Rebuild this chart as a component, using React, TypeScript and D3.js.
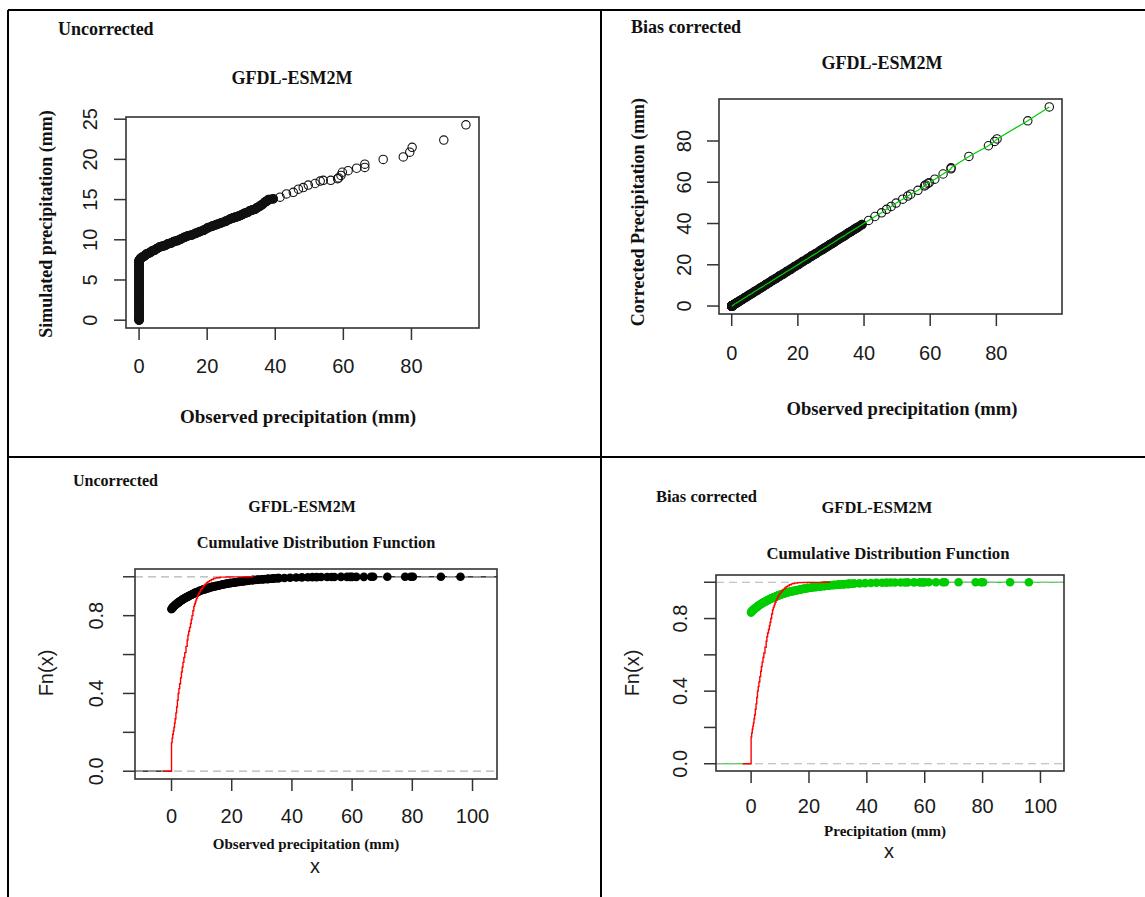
import React, { useEffect, useRef } from "react";
import * as d3 from "d3";

// sorted quantile pairs (mm)
const qqObserved = [
  0, 0, 0, 0, 0, 0, 0, 0, 0, 0, 0, 0, 0, 0, 0, 0, 0, 0, 0, 0, 0, 0, 0, 0, 0, 0, 0, 0, 0, 0,
  0.3, 0.5, 0.8, 1.2, 1.6, 2.1, 2.6, 3.2, 3.8, 4.5, 5.2, 6.0, 6.8, 7.6, 8.5, 9.4, 10.3, 11.3, 12.3, 13.3,
  14.4, 15.5, 16.6, 17.8, 19.0, 20.2, 21.5, 22.8, 24.1, 25.4, 26.8, 27.5, 28.2, 28.9, 29.6, 30.3, 31.0,
  31.8, 32.5, 33.2, 34.0, 34.7, 35.5, 36.2, 37.0, 37.5, 38.0,
  39.4, 41.4, 43.3, 45.3, 46.8, 48.2, 49.7, 51.7, 53.2, 54.1, 56.3, 58.3, 58.6, 59.3, 59.7, 61.4, 63.9, 66.3, 66.3,
  71.7, 77.6, 79.5, 80.2, 89.5, 96.0,
];
const qqSimulated = [
  0, 0.1, 0.3, 0.5, 0.8, 1.1, 1.3, 1.6, 1.9, 2.2, 2.4, 2.7, 3.0, 3.3, 3.5, 3.8, 4.1, 4.4, 4.6, 4.9, 5.2, 5.4, 5.7, 6.0, 6.2, 6.5, 6.8, 7.0, 7.2, 7.4,
  7.6, 7.7, 7.8, 7.9, 8.0, 8.2, 8.3, 8.4, 8.6, 8.7, 8.9, 9.1, 9.2, 9.3, 9.5, 9.6, 9.8, 9.9, 10.1, 10.3,
  10.5, 10.6, 10.8, 11.0, 11.2, 11.5, 11.7, 11.9, 12.1, 12.3, 12.6, 12.7, 12.8, 12.9, 13.0, 13.15, 13.3,
  13.4, 13.6, 13.7, 13.8, 14.0, 14.2, 14.4, 14.7, 14.8, 15.0,
  15.1, 15.3, 15.7, 15.9, 16.3, 16.5, 16.8, 17.0, 17.3, 17.4, 17.4, 17.6, 17.7, 18.0, 18.4, 18.6, 18.9, 19.0, 19.4,
  20.0, 20.3, 20.9, 21.5, 22.4, 24.3,
];
const qqCorrected = [
  0, 0, 0, 0, 0, 0, 0, 0, 0, 0, 0, 0, 0, 0, 0, 0, 0, 0, 0, 0, 0, 0, 0, 0, 0, 0, 0, 0, 0, 0,
  0.2, 0.5, 0.9, 1.2, 1.7, 2.1, 2.7, 3.2, 3.9, 4.5, 5.3, 6.0, 6.9, 7.6, 8.6, 9.4, 10.4, 11.3, 12.4, 13.3,
  14.5, 15.5, 16.7, 17.8, 19.1, 20.2, 21.6, 22.8, 24.2, 25.4, 26.9, 27.5, 28.2, 28.9, 29.7, 30.3, 31.0,
  31.9, 32.6, 33.3, 34.0, 34.8, 35.6, 36.3, 37.1, 37.6, 38.1,
  39.5, 41.5, 43.4, 45.2, 46.9, 48.3, 49.9, 51.8, 53.3, 54.2, 56.1, 58.2, 58.7, 59.4, 59.8, 61.5, 64.0, 66.5, 67.0,
  72.5, 77.7, 79.8, 81.0, 89.8, 96.5,
];

// empirical CDF of observed / corrected precipitation (knots and Fn)
const cdfObsX = [
  0, 0.3, 0.6, 1.0, 1.4, 1.9, 2.4, 2.9, 3.5, 4.1, 4.8, 5.5, 6.2, 7.0, 7.8, 8.6, 9.5, 10.4, 11.4, 12.4,
  13.5, 14.6, 15.8, 17.0, 18.3, 19.6, 21.0, 22.4, 23.9, 25.4, 27.0, 28.6, 30.3, 32.0, 33.8, 35.6, 37.5, 39.4,
  41.4, 43.3, 45.3, 46.8, 48.2, 49.7, 51.7, 53.2, 54.1, 56.3, 58.3, 59.3, 60.0, 61.4, 63.9, 66.3, 67.0,
  71.7, 77.6, 79.5, 80.2, 89.5, 96.0,
];
const cdfObsY = [
  0.834, 0.84, 0.845, 0.851, 0.857, 0.863, 0.869, 0.875, 0.881, 0.887, 0.893, 0.899, 0.905, 0.911, 0.917,
  0.922, 0.928, 0.933, 0.938, 0.943, 0.948, 0.952, 0.956, 0.96, 0.964, 0.968, 0.971, 0.974, 0.977, 0.98,
  0.983, 0.985, 0.987, 0.989, 0.991, 0.993, 0.994, 0.995, 0.996, 0.997, 0.9975, 0.998, 0.9983, 0.9986,
  0.9988, 0.999, 0.9991, 0.9993, 0.9994, 0.9995, 0.9996, 0.9997, 0.9997, 0.9998, 0.9998, 0.9999, 0.9999,
  0.9999, 0.9999, 0.99995, 1.0,
];

// CDF of simulated precipitation (red step line)
const cdfSimX = [
  0, 0.2, 0.4, 0.6, 0.8, 1.0, 1.2, 1.45, 1.7, 1.95, 2.2, 2.45, 2.7, 3.0, 3.3, 3.55, 3.8, 4.1, 4.4, 4.8,
  5.2, 5.45, 5.7, 6.0, 6.3, 6.55, 6.8, 7.1, 7.4, 7.65, 7.9, 8.1, 8.3, 8.6, 8.9, 9.15, 9.4, 9.7, 10.0,
  10.35, 10.7, 11.1, 11.6, 12.1, 12.6, 13.2, 13.9, 14.4, 15.0, 16.1, 18.0, 19.4, 24.3,
];
const cdfSimY = [
  0.147, 0.17, 0.19, 0.207, 0.225, 0.248, 0.27, 0.3, 0.33, 0.365, 0.4, 0.425, 0.45, 0.48, 0.51, 0.535,
  0.56, 0.585, 0.61, 0.642, 0.675, 0.7, 0.72, 0.74, 0.76, 0.78, 0.8, 0.825, 0.848, 0.86, 0.87, 0.88,
  0.89, 0.9, 0.91, 0.918, 0.925, 0.933, 0.94, 0.948, 0.955, 0.962, 0.969, 0.975, 0.98, 0.986, 0.991,
  0.993, 0.995, 0.998, 0.999, 0.9995, 1.0,
];

const qqXTicks = [0, 20, 40, 60, 80];
const simYTicks = [0, 5, 10, 15, 20, 25];
const corrYTicks = [0, 20, 40, 60, 80];
const cdfXTicks = [0, 20, 40, 60, 80, 100];
const cdfYTicks = [0, 0.2, 0.4, 0.6, 0.8, 1];
const cdfYLabels = ["0.0", "", "0.4", "", "0.8", ""];

const SERIF = "'Liberation Serif', 'Times New Roman', serif";
const SANS = "'Liberation Sans', Arial, sans-serif";
const GREEN = "#00cd00";

const pad = (lo: number, hi: number) => {
  const d = (hi - lo) * 0.04;
  return [lo - d, hi + d];
};

function addText(g: any, t: any) {
  const el = g
    .append("text")
    .attr("x", t.x)
    .attr("y", t.y)
    .attr("font-family", t.font || SERIF)
    .attr("font-weight", t.bold === false ? "normal" : "bold")
    .attr("font-size", t.size)
    .attr("text-anchor", t.anchor || "middle")
    .attr("fill", t.fill || "#111")
    .text(t.s);
  if (t.rot) el.attr("transform", `rotate(-90, ${t.x}, ${t.y})`);
}

function drawAxes(g: any, cfg: any, xs: any, ys: any) {
  const { box } = cfg;
  const ax = g.append("g").attr("stroke", "#333").attr("stroke-width", 1.5);
  ax.selectAll("line.xt")
    .data(cfg.xTicks)
    .join("line")
    .attr("x1", (d: number) => xs(d))
    .attr("x2", (d: number) => xs(d))
    .attr("y1", box.b)
    .attr("y2", box.b + 12);
  ax.selectAll("line.yt")
    .data(cfg.yTicks)
    .join("line")
    .attr("class", "yt")
    .attr("x1", box.l - 12)
    .attr("x2", box.l)
    .attr("y1", (d: number) => ys(d))
    .attr("y2", (d: number) => ys(d));

  const lab = g
    .append("g")
    .attr("font-family", SANS)
    .attr("font-size", 20)
    .attr("fill", "#1a1a1a")
    .attr("text-anchor", "middle");
  lab
    .selectAll("text.xl")
    .data(cfg.xTicks)
    .join("text")
    .attr("x", (d: number) => xs(d))
    .attr("y", cfg.xLabelY)
    .text((d: number) => d);
  lab
    .selectAll("text.yl")
    .data(cfg.yTicks)
    .join("text")
    .attr("class", "yl")
    .attr("x", cfg.yLabelX)
    .attr("y", (d: number) => ys(d))
    .attr("transform", (d: number) => `rotate(-90, ${cfg.yLabelX}, ${ys(d)})`)
    .text((d: number, i: number) => (cfg.yLabels ? cfg.yLabels[i] : d));

  g.append("rect")
    .attr("x", box.l)
    .attr("y", box.t)
    .attr("width", box.r - box.l)
    .attr("height", box.b - box.t)
    .attr("fill", "none")
    .attr("stroke", "#333")
    .attr("stroke-width", 1.6);

  cfg.texts.forEach((t: any) => addText(g, t));
}

// joins long runs of markers closer than maxGap px, the way overplotted symbols merge
function bandPairs(pts: number[][], maxGap: number, minRun = 6) {
  const out: number[][][] = [];
  let run: number[][][] = [];
  const flush = () => {
    if (run.length >= minRun - 1) out.push(...run);
    run = [];
  };
  d3.pairs(pts).forEach(([a, b]) => {
    if (Math.hypot(b[0] - a[0], b[1] - a[1]) < maxGap) run.push([a, b]);
    else flush();
  });
  flush();
  return out;
}

function drawQQ(svg: any, cfg: any) {
  const { box } = cfg;
  const g = svg.append("g");
  const xs = d3
    .scaleLinear()
    .domain(pad(d3.min(cfg.xData)!, d3.max(cfg.xData)!))
    .range([box.l, box.r]);
  const ys = d3
    .scaleLinear()
    .domain(pad(d3.min(cfg.yData)!, d3.max(cfg.yData)!))
    .range([box.b, box.t]);
  const pts = cfg.xData.map((v: number, i: number) => [xs(v), ys(cfg.yData[i])]);

  g.append("g")
    .selectAll("line")
    .data(bandPairs(pts, 5.6))
    .join("line")
    .attr("x1", (d: any) => d[0][0])
    .attr("y1", (d: any) => d[0][1])
    .attr("x2", (d: any) => d[1][0])
    .attr("y2", (d: any) => d[1][1])
    .attr("stroke", "#111")
    .attr("stroke-width", 9.4)
    .attr("stroke-linecap", "round");

  g.append("g")
    .selectAll("circle")
    .data(pts)
    .join("circle")
    .attr("cx", (d: any) => d[0])
    .attr("cy", (d: any) => d[1])
    .attr("r", 4.2)
    .attr("fill", "none")
    .attr("stroke", "#111")
    .attr("stroke-width", 1.1);

  if (cfg.line) {
    g.append("path")
      .attr("d", d3.line()(pts))
      .attr("fill", "none")
      .attr("stroke", cfg.line)
      .attr("stroke-width", 1.2);
  }

  drawAxes(g, cfg, xs, ys);
}

function drawCdf(svg: any, cfg: any) {
  const { box } = cfg;
  const g = svg.append("g");
  const xMin = d3.min(cdfObsX)!;
  const xMax = d3.max(cdfObsX)!;
  const dr = Math.max(0.08 * (xMax - xMin), d3.median(d3.pairs(cdfObsX, (a, b) => b - a))!);
  const xs = d3
    .scaleLinear()
    .domain(pad(xMin - dr, xMax + dr))
    .range([box.l, box.r]);
  const ys = d3.scaleLinear().domain(pad(0, 1)).range([box.b, box.t]);
  const pts = cdfObsX.map((v, i) => [xs(v), ys(cdfObsY[i])]);

  // horizontal pieces of the step function
  const segs: number[][] = [[box.l, xs(cdfObsX[0]), ys(0)]];
  cdfObsX.forEach((v, i) => {
    const next = i < cdfObsX.length - 1 ? xs(cdfObsX[i + 1]) : box.r;
    segs.push([xs(v), next, ys(cdfObsY[i])]);
  });
  g.append("g")
    .selectAll("line")
    .data(segs)
    .join("line")
    .attr("x1", (d: number[]) => d[0])
    .attr("x2", (d: number[]) => d[1])
    .attr("y1", (d: number[]) => d[2])
    .attr("y2", (d: number[]) => d[2])
    .attr("stroke", cfg.color)
    .attr("stroke-width", 1.2);

  g.append("g")
    .selectAll("line")
    .data([0, 1])
    .join("line")
    .attr("x1", box.l)
    .attr("x2", box.r)
    .attr("y1", (d: number) => ys(d))
    .attr("y2", (d: number) => ys(d))
    .attr("stroke", "#b3b3b3")
    .attr("stroke-width", 1.2)
    .attr("stroke-dasharray", "8,5");

  g.append("g")
    .selectAll("line")
    .data(bandPairs(pts, 5.5))
    .join("line")
    .attr("x1", (d: any) => d[0][0])
    .attr("y1", (d: any) => d[0][1])
    .attr("x2", (d: any) => d[1][0])
    .attr("y2", (d: any) => d[1][1])
    .attr("stroke", cfg.color)
    .attr("stroke-width", 8.6)
    .attr("stroke-linecap", "round");

  g.append("g")
    .selectAll("circle")
    .data(pts)
    .join("circle")
    .attr("cx", (d: any) => d[0])
    .attr("cy", (d: any) => d[1])
    .attr("r", 4.3)
    .attr("fill", cfg.color);

  const simExt = 0.12 * (d3.max(cdfSimX)! - d3.min(cdfSimX)!);
  const simPts: [number, number][] = [
    [xs(cdfSimX[0] - simExt), ys(0)],
    ...cdfSimX.map((v, i) => [xs(v), ys(cdfSimY[i])] as [number, number]),
    [xs(cdfSimX[cdfSimX.length - 1] + simExt), ys(cdfSimY[cdfSimY.length - 1])],
  ];
  g.append("path")
    .attr("d", d3.line().curve(d3.curveStepAfter)(simPts))
    .attr("fill", "none")
    .attr("stroke", "#ff0000")
    .attr("stroke-width", 1.4);

  drawAxes(g, cfg, xs, ys);
}

const App: React.FC = () => {
  const svgRef = useRef<SVGSVGElement>(null);

  useEffect(() => {
    const svg = d3.select(svgRef.current);
    svg.selectAll("*").remove();

    // table rules
    const rules = [
      [8, 10, 1145, 10],
      [8, 457, 1145, 457],
      [8, 10, 8, 897],
      [601, 10, 601, 897],
    ];
    svg
      .append("g")
      .selectAll("line")
      .data(rules)
      .join("line")
      .attr("x1", (d) => d[0])
      .attr("y1", (d) => d[1])
      .attr("x2", (d) => d[2])
      .attr("y2", (d) => d[3])
      .attr("stroke", "#000")
      .attr("stroke-width", 2);

    drawQQ(svg, {
      box: { l: 126, r: 479, t: 117, b: 328 },
      xData: qqObserved,
      yData: qqSimulated,
      xTicks: qqXTicks,
      yTicks: simYTicks,
      xLabelY: 373,
      yLabelX: 97,
      texts: [
        { s: "Uncorrected", x: 58, y: 35, size: 18, anchor: "start" },
        { s: "GFDL-ESM2M", x: 292, y: 84, size: 18 },
        { s: "Observed precipitation (mm)", x: 298, y: 423, size: 19 },
        { s: "Simulated precipitation (mm)", x: 52, y: 224, size: 18, rot: true },
      ],
    });

    drawQQ(svg, {
      box: { l: 719, r: 1062, t: 99, b: 314 },
      xData: qqObserved,
      yData: qqCorrected,
      line: GREEN,
      xTicks: qqXTicks,
      yTicks: corrYTicks,
      xLabelY: 360,
      yLabelX: 691,
      texts: [
        { s: "Bias corrected", x: 631, y: 33, size: 18, anchor: "start" },
        { s: "GFDL-ESM2M", x: 882, y: 69, size: 18 },
        { s: "Observed precipitation (mm)", x: 902, y: 415, size: 18.6 },
        { s: "Corrected Precipitation (mm)", x: 644, y: 212, size: 18, rot: true },
      ],
    });

    drawCdf(svg, {
      box: { l: 135, r: 497, t: 569, b: 779 },
      color: "#000",
      xTicks: cdfXTicks,
      yTicks: cdfYTicks,
      yLabels: cdfYLabels,
      xLabelY: 823,
      yLabelX: 103,
      texts: [
        { s: "Uncorrected", x: 73, y: 486, size: 16, anchor: "start" },
        { s: "GFDL-ESM2M", x: 302, y: 512, size: 16 },
        { s: "Cumulative Distribution Function", x: 316, y: 548, size: 16.4 },
        { s: "Observed precipitation (mm)", x: 306, y: 849, size: 15 },
        { s: "x", x: 315, y: 873, size: 20, font: SANS, bold: false, fill: "#1a1a1a" },
        { s: "Fn(x)", x: 53, y: 673, size: 20, font: SANS, bold: false, fill: "#1a1a1a", rot: true },
      ],
    });

    drawCdf(svg, {
      box: { l: 716, r: 1064, t: 575, b: 771 },
      color: GREEN,
      xTicks: cdfXTicks,
      yTicks: cdfYTicks,
      yLabels: cdfYLabels,
      xLabelY: 813,
      yLabelX: 687,
      texts: [
        { s: "Bias corrected", x: 656, y: 502, size: 16.5, anchor: "start" },
        { s: "GFDL-ESM2M", x: 877, y: 513, size: 16.5 },
        { s: "Cumulative Distribution Function", x: 888, y: 559, size: 16.7 },
        { s: "Precipitation (mm)", x: 885, y: 836, size: 15 },
        { s: "x", x: 889, y: 858, size: 20, font: SANS, bold: false, fill: "#1a1a1a" },
        { s: "Fn(x)", x: 639, y: 673, size: 20, font: SANS, bold: false, fill: "#1a1a1a", rot: true },
      ],
    });
  }, []);

  return (
    <svg
      ref={svgRef}
      width={1145}
      height={897}
      style={{ position: "absolute", left: 0, top: 0, background: "#fff" }}
    ></svg>
  );
};

export default App;
